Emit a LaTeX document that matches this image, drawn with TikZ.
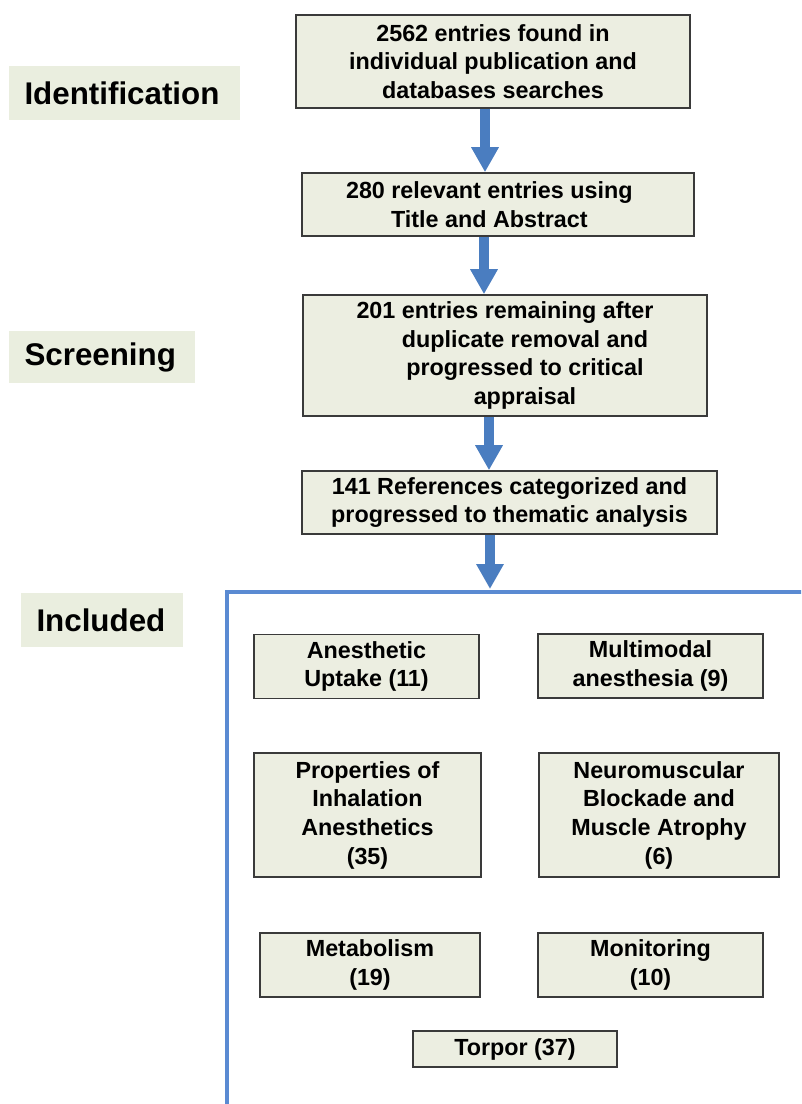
\documentclass[tikz,border=0pt]{standalone}
\usepackage{fontspec}
\setmainfont{Liberation Sans}
\usetikzlibrary{arrows.meta}
\definecolor{boxfill}{HTML}{ECEEE1}
\definecolor{labfill}{HTML}{EAEEDF}
\definecolor{boxline}{HTML}{3A3A3A}
\definecolor{arrowblue}{HTML}{4A7DC0}
\definecolor{frameblue}{HTML}{5A8AD2}
\begin{document}
\begin{tikzpicture}[x=0.75pt,y=-0.75pt,
  stagebox/.style={draw=boxline, fill=boxfill, line width=1.2pt, inner sep=0pt,
    align=center, font=\fontsize{17.5}{21.5}\selectfont\bfseries},
  catbox/.style={stagebox},
  stagelabel/.style={fill=labfill, inner xsep=15.5*0.75pt, inner ysep=0pt, align=left,
    font=\fontsize{23.5}{27}\selectfont\bfseries},
  flow/.style={draw=arrowblue, line width=7.5pt,
    -{Triangle[width=19.5pt,length=18.75pt,fill=arrowblue]}}
]
\fill[white] (0,0) rectangle (801,1104);
\useasboundingbox (0,0) rectangle (801,1104);

% stage labels
\node[stagelabel, text width=200*0.75pt, minimum height=54*0.75pt] (lid) at (124.5,93) {Identification};
\node[stagelabel, text width=155*0.75pt, minimum height=52*0.75pt] (lsc) at (102,357) {Screening};
\node[stagelabel, text width=131*0.75pt, minimum height=54*0.75pt] (lin) at (102,620) {Included};

% flow boxes
\node[stagebox, minimum width=394*0.75pt, minimum height=93*0.75pt] (b1) at (493,61.5)
  {2562 entries found in\\individual publication and\\databases searches};
\node[stagebox, minimum width=392*0.75pt, minimum height=63*0.75pt] (b2) at (498,204.5)
  {280 relevant entries using\hspace*{13pt}\\Title and Abstract\hspace*{13pt}};
\node[stagebox, minimum width=404*0.75pt, minimum height=121*0.75pt] (b3) at (505,355.5)
  {201 entries remaining after\\\hspace*{30pt}duplicate removal and\\\hspace*{30pt}progressed to critical\\\hspace*{30pt}appraisal};
\node[stagebox, minimum width=415*0.75pt, minimum height=63*0.75pt] (b4) at (509.5,502.5)
  {141 References categorized and\\progressed to thematic analysis};

% frame of included studies
\coordinate (fcorner) at (227,592);
\begin{scope}
  \clip (0,0) rectangle (801,1104);
  \draw[frameblue, line width=2.6pt] (830,592) -| (227,1130);
\end{scope}

% category boxes
\node[catbox, minimum width=225*0.75pt, minimum height=64*0.75pt] (c1) at (366.5,666.5)
  {Anesthetic\\Uptake (11)};
\node[catbox, minimum width=225*0.75pt, minimum height=64*0.75pt] (c2) at (650.5,666)
  {Multimodal\\anesthesia (9)};
\node[catbox, minimum width=227*0.75pt, minimum height=124*0.75pt] (c3) at (367.5,815)
  {Properties of\\Inhalation\\Anesthetics\\(35)};
\node[catbox, minimum width=240*0.75pt, minimum height=124*0.75pt] (c4) at (659,815)
  {Neuromuscular\\Blockade and\\Muscle Atrophy\\(6)};
\node[catbox, minimum width=220*0.75pt, minimum height=64*0.75pt] (c5) at (370,965)
  {Metabolism\\(19)};
\node[catbox, minimum width=225*0.75pt, minimum height=64*0.75pt] (c6) at (650.5,965)
  {Monitoring\\(10)};
\node[catbox, minimum width=204*0.75pt, minimum height=36*0.75pt] (c7) at (515,1049)
  {Torpor (37)};

% arrows
\coordinate (ax1) at (485,0);
\coordinate (ax2) at (484,0);
\coordinate (ax3) at (489,0);
\coordinate (ax4) at (490,0);
\coordinate (a4end) at (490,589);
\draw[flow] (b1.south -| ax1) -- (b2.north -| ax1);
\draw[flow] (b2.south -| ax2) -- (b3.north -| ax2);
\draw[flow] (b3.south -| ax3) -- (b4.north -| ax3);
\draw[flow] (b4.south -| ax4) -- (a4end);
\end{tikzpicture}
\end{document}
